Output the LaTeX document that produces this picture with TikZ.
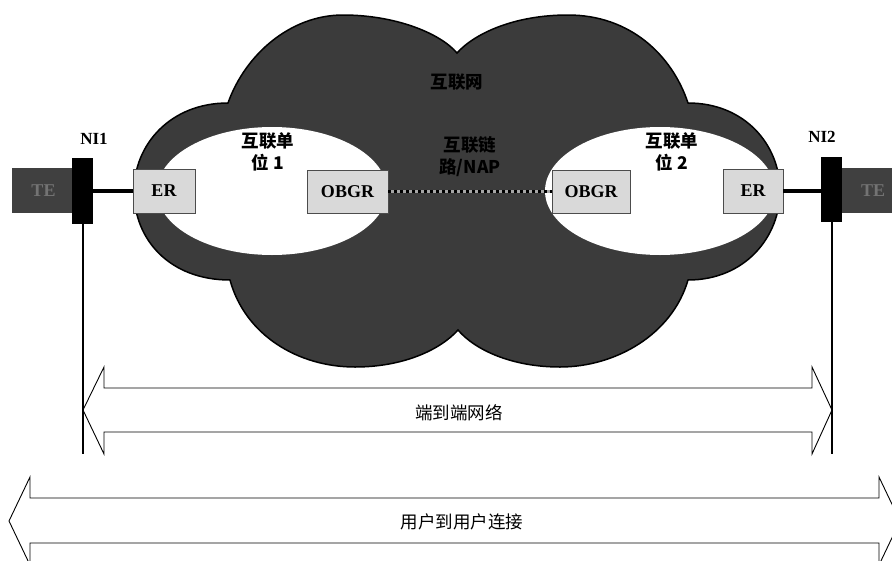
\documentclass[tikz,border=0pt]{standalone}
\usepackage{fontspec}
\setmainfont{Liberation Serif}
\newfontfamily\cjk{Noto Sans CJK SC}
\definecolor{cloudgray}{gray}{0.23}
\definecolor{tegray}{gray}{0.25}
\definecolor{boxgray}{gray}{0.85}
\begin{document}
\begin{tikzpicture}[x=1pt,y=-1pt,
  rbox/.style={draw=black!70, line width=0.8pt, fill=boxgray, inner sep=0pt,
    font=\bfseries\fontsize{18}{20}\selectfont},
  tebox/.style={fill=tegray, inner sep=0pt, text=black!55,
    font=\bfseries\fontsize{18}{20}\selectfont},
  nibar/.style={fill=black, inner sep=0pt, minimum width=21pt},
  nilabel/.style={font=\bfseries\fontsize{17}{19}\selectfont},
  cjklabel/.style={font=\cjk\bfseries\fontsize{17.5}{22}\selectfont, align=center},
  cjkplain/.style={font=\cjk\fontsize{17.5}{19}\selectfont},
  blockarrow/.style={draw=black, line width=0.9pt, fill=white},
  thickline/.style={line width=4.5pt},
  vline/.style={line width=2.4pt}
]
\clip (0,0) rectangle (892,560);
\fill[white] (0,0) rectangle (892,560);

% cloud
\path[draw=black, line width=1.5pt, fill=cloudgray]
  (228,103) .. controls (245,55) and (290,15) .. (343,15)
  .. controls (395,15) and (440,33) .. (457,53)
  .. controls (475,33) and (515,15) .. (568,15)
  .. controls (630,15) and (672,55) .. (688,103)
  .. controls (745,103) and (780,145) .. (780,191)
  .. controls (780,237) and (745,280) .. (688,280)
  .. controls (672,335) and (615,367) .. (560,367)
  .. controls (512,367) and (475,350) .. (458,330)
  .. controls (440,350) and (403,367) .. (355,367)
  .. controls (298,367) and (245,335) .. (230,280)
  .. controls (170,280) and (134,240) .. (134,191)
  .. controls (134,145) and (170,103) .. (228,103) -- cycle;
\fill[white] (272,191) ellipse [x radius=115pt, y radius=64pt];
\fill[white] (660,191) ellipse [x radius=115pt, y radius=64pt];

% TE boxes and NI bars
\node[tebox, minimum width=63pt, minimum height=45pt] (te1) at (43.5,190.5) {TE};
\node[tebox, minimum width=62pt, minimum height=45pt] (te2) at (873,190.5) {TE};
\node[nibar, minimum height=66pt] (ni1) at (82.5,191) {};
\node[nibar, minimum height=65pt] (ni2) at (831.5,189.5) {};
\node[nilabel] (ni1l) at (94,139) {NI1};
\node[nilabel] (ni2l) at (822,137) {NI2};

% routers
\node[rbox, minimum width=62pt, minimum height=44pt] (er1) at (164,191) {ER};
\node[rbox, minimum width=81pt, minimum height=43pt] (obgr1) at (347.5,191.5) {OBGR};
\node[rbox, minimum width=78pt, minimum height=43pt] (obgr2) at (591,191.5) {OBGR};
\node[rbox, minimum width=60pt, minimum height=44pt] (er2) at (753,191) {ER};

% links
\draw[thickline] (ni1.east |- er1.west) -- (er1.west);
\draw[thickline] (er2.east) -- (ni2.west |- er2.east);
\draw[line width=3pt, black!35] (obgr1.east) -- (obgr2.west);
\draw[line width=3.5pt, black, dash pattern=on 3pt off 3pt] (obgr1.east) -- (obgr2.west);

% labels in cloud
\node[cjklabel] (inet) at (457,82) {互联网};
\node[cjklabel] (nap) at (470,157) {互联链\\路/NAP};
\node[cjklabel] (iu1) at (268,152) {互联单\\位 1};
\node[cjklabel] (iu2) at (672,152) {互联单\\位 2};

% block arrows
\draw[blockarrow] (83,410) -- (104,367) -- (104,388) -- (812,388) -- (812,367)
  -- (832,410) -- (812,454) -- (812,432) -- (104,432) -- (104,454) -- cycle;
\draw[blockarrow] (9,521) -- (30,477) -- (30,498) -- (879,498) -- (879,477)
  -- (900,521) -- (879,565) -- (879,543) -- (30,543) -- (30,565) -- cycle;
\node[cjkplain] (e2e) at (459,413) {端到端网络};
\node[cjkplain] (u2u) at (462,522) {用户到用户连接};

% vertical lines
\coordinate (v1) at (83,454);
\coordinate (v2) at (832,454);
\draw[vline] (ni1.south -| v1) -- (v1);
\draw[vline] (ni2.south -| v2) -- (v2);
\end{tikzpicture}
\end{document}
